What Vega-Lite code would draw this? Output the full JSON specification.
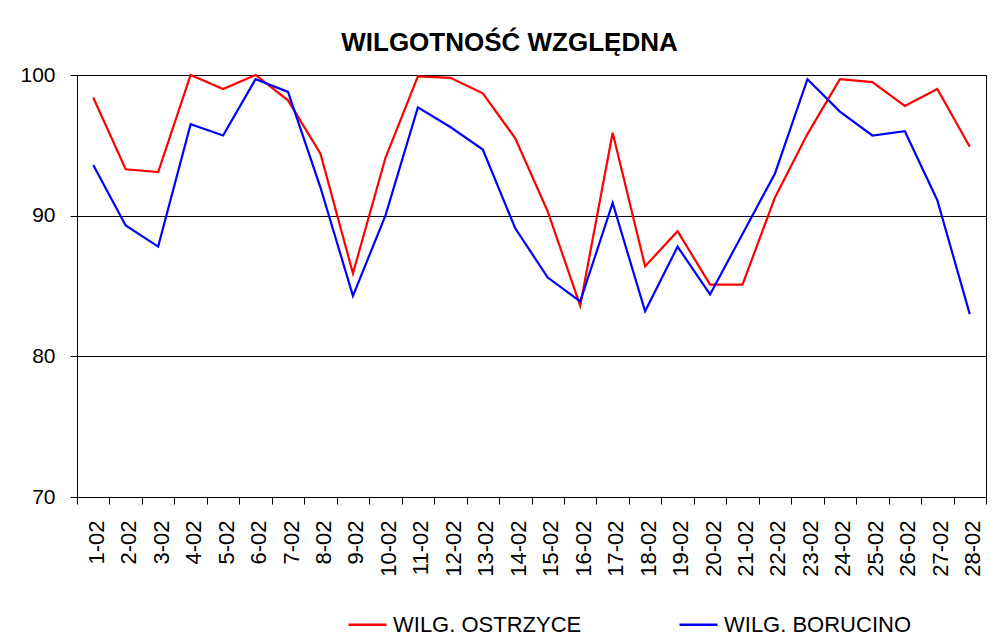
{
  "$schema": "https://vega.github.io/schema/vega-lite/v6.json",
  "width": 909,
  "height": 422,
  "autosize": {"type": "none"},
  "padding": {"left": 77, "top": 75, "right": 21, "bottom": 145},
  "background": "white",
  "title": {
    "text": "WILGOTNOŚĆ WZGLĘDNA",
    "font": "Liberation Sans",
    "fontSize": 26,
    "fontWeight": "bold",
    "color": "black",
    "anchor": "middle",
    "dx": -22,
    "offset": 8
  },
  "data": {
    "values": [
      {"day": "1-02", "series": "WILG. OSTRZYCE", "value": 98.4},
      {"day": "2-02", "series": "WILG. OSTRZYCE", "value": 93.3},
      {"day": "3-02", "series": "WILG. OSTRZYCE", "value": 93.1},
      {"day": "4-02", "series": "WILG. OSTRZYCE", "value": 100},
      {"day": "5-02", "series": "WILG. OSTRZYCE", "value": 99.0},
      {"day": "6-02", "series": "WILG. OSTRZYCE", "value": 100},
      {"day": "7-02", "series": "WILG. OSTRZYCE", "value": 98.2},
      {"day": "8-02", "series": "WILG. OSTRZYCE", "value": 94.4},
      {"day": "9-02", "series": "WILG. OSTRZYCE", "value": 85.9},
      {"day": "10-02", "series": "WILG. OSTRZYCE", "value": 94.1},
      {"day": "11-02", "series": "WILG. OSTRZYCE", "value": 99.9},
      {"day": "12-02", "series": "WILG. OSTRZYCE", "value": 99.8},
      {"day": "13-02", "series": "WILG. OSTRZYCE", "value": 98.7},
      {"day": "14-02", "series": "WILG. OSTRZYCE", "value": 95.5},
      {"day": "15-02", "series": "WILG. OSTRZYCE", "value": 90.3},
      {"day": "16-02", "series": "WILG. OSTRZYCE", "value": 83.6},
      {"day": "17-02", "series": "WILG. OSTRZYCE", "value": 95.9},
      {"day": "18-02", "series": "WILG. OSTRZYCE", "value": 86.4},
      {"day": "19-02", "series": "WILG. OSTRZYCE", "value": 88.9},
      {"day": "20-02", "series": "WILG. OSTRZYCE", "value": 85.1},
      {"day": "21-02", "series": "WILG. OSTRZYCE", "value": 85.1},
      {"day": "22-02", "series": "WILG. OSTRZYCE", "value": 91.3},
      {"day": "23-02", "series": "WILG. OSTRZYCE", "value": 95.8},
      {"day": "24-02", "series": "WILG. OSTRZYCE", "value": 99.7},
      {"day": "25-02", "series": "WILG. OSTRZYCE", "value": 99.5},
      {"day": "26-02", "series": "WILG. OSTRZYCE", "value": 97.8},
      {"day": "27-02", "series": "WILG. OSTRZYCE", "value": 99.0},
      {"day": "28-02", "series": "WILG. OSTRZYCE", "value": 94.9},
      {"day": "1-02", "series": "WILG. BORUCINO", "value": 93.6},
      {"day": "2-02", "series": "WILG. BORUCINO", "value": 89.3},
      {"day": "3-02", "series": "WILG. BORUCINO", "value": 87.8},
      {"day": "4-02", "series": "WILG. BORUCINO", "value": 96.5},
      {"day": "5-02", "series": "WILG. BORUCINO", "value": 95.7},
      {"day": "6-02", "series": "WILG. BORUCINO", "value": 99.7},
      {"day": "7-02", "series": "WILG. BORUCINO", "value": 98.8},
      {"day": "8-02", "series": "WILG. BORUCINO", "value": 92.0},
      {"day": "9-02", "series": "WILG. BORUCINO", "value": 84.3},
      {"day": "10-02", "series": "WILG. BORUCINO", "value": 90.0},
      {"day": "11-02", "series": "WILG. BORUCINO", "value": 97.7},
      {"day": "12-02", "series": "WILG. BORUCINO", "value": 96.3},
      {"day": "13-02", "series": "WILG. BORUCINO", "value": 94.7},
      {"day": "14-02", "series": "WILG. BORUCINO", "value": 89.1},
      {"day": "15-02", "series": "WILG. BORUCINO", "value": 85.6},
      {"day": "16-02", "series": "WILG. BORUCINO", "value": 83.9},
      {"day": "17-02", "series": "WILG. BORUCINO", "value": 90.9},
      {"day": "18-02", "series": "WILG. BORUCINO", "value": 83.2},
      {"day": "19-02", "series": "WILG. BORUCINO", "value": 87.8},
      {"day": "20-02", "series": "WILG. BORUCINO", "value": 84.4},
      {"day": "21-02", "series": "WILG. BORUCINO", "value": 88.7},
      {"day": "22-02", "series": "WILG. BORUCINO", "value": 93.0},
      {"day": "23-02", "series": "WILG. BORUCINO", "value": 99.7},
      {"day": "24-02", "series": "WILG. BORUCINO", "value": 97.4},
      {"day": "25-02", "series": "WILG. BORUCINO", "value": 95.7},
      {"day": "26-02", "series": "WILG. BORUCINO", "value": 96.0},
      {"day": "27-02", "series": "WILG. BORUCINO", "value": 91.1},
      {"day": "28-02", "series": "WILG. BORUCINO", "value": 83.0}
    ]
  },
  "mark": {"type": "line", "strokeWidth": 2.2, "clip": false},
  "encoding": {
    "x": {
      "field": "day",
      "type": "ordinal",
      "sort": null,
      "bandPosition": 0.5,
      "scale": {"type": "band", "paddingInner": 0, "paddingOuter": 0},
      "axis": {
        "title": null,
        "tickBand": "extent",
        "labelAngle": 270,
        "labelAlign": "right",
        "labelBaseline": "middle",
        "labelFont": "Liberation Sans",
        "labelFontSize": 22,
        "labelColor": "black",
        "labelPadding": 16,
        "labelOffset": 3,
        "tickSize": 7,
        "tickColor": "black",
        "domainColor": "black",
        "grid": false
      }
    },
    "y": {
      "field": "value",
      "type": "quantitative",
      "scale": {"domain": [70, 100], "nice": false, "zero": false},
      "axis": {
        "title": null,
        "values": [70, 80, 90, 100],
        "labelFont": "Liberation Sans",
        "labelFontSize": 21,
        "labelColor": "black",
        "labelPadding": 15,
        "tickSize": 7,
        "tickColor": "black",
        "domainColor": "black",
        "grid": true,
        "gridColor": "black",
        "gridOpacity": 1,
        "gridWidth": 1
      }
    },
    "color": {
      "field": "series",
      "type": "nominal",
      "scale": {"domain": ["WILG. OSTRZYCE", "WILG. BORUCINO"], "range": ["#FF0000", "#0000FF"]},
      "legend": {
        "title": null,
        "orient": "none",
        "legendX": 270,
        "legendY": 529,
        "direction": "horizontal",
        "symbolType": "stroke",
        "symbolSize": 1444,
        "symbolStrokeWidth": 2.5,
        "labelFont": "Liberation Sans",
        "labelFontSize": 22,
        "labelColor": "black",
        "labelOffset": 5,
        "labelLimit": 0,
        "columnPadding": 92
      }
    }
  },
  "config": {
    "view": {"stroke": "black", "strokeWidth": 1},
    "axis": {"domainWidth": 1, "tickWidth": 1}
  }
}
